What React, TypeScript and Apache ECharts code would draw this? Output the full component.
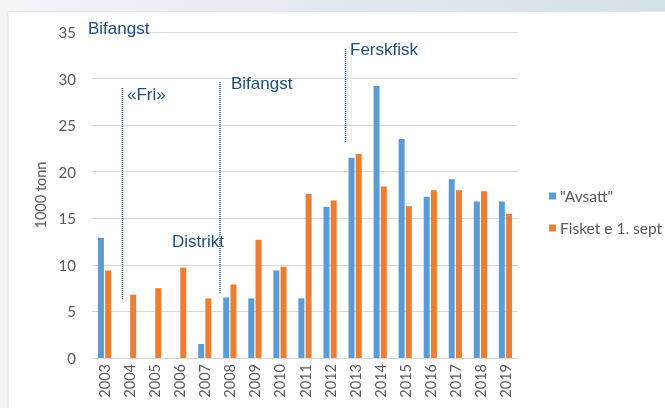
import React, { useEffect, useRef } from "react";
import * as echarts from "echarts";

const years = ["2003","2004","2005","2006","2007","2008","2009","2010","2011","2012","2013","2014","2015","2016","2017","2018","2019"];
const avsatt = [12.9, 0, 0, 0, 1.5, 6.5, 6.4, 9.4, 6.4, 16.2, 21.5, 29.2, 23.5, 17.3, 19.2, 16.8, 16.8];
const fisket = [9.4, 6.8, 7.5, 9.7, 6.4, 7.9, 12.7, 9.8, 17.6, 16.9, 21.9, 18.4, 16.3, 18.0, 18.0, 17.9, 15.5];
const seriesNames = ['"Avsatt"', "Fisket e 1. sept"];
const yTicks = { min: 0, max: 35, interval: 5 };
const annotations = ["Bifangst", "«Fri»", "Bifangst", "Distrikt", "Ferskfisk"];

export default function App() {
  const ref = useRef<HTMLDivElement>(null);
  useEffect(() => {
    if (!ref.current) return;
    const chart = echarts.init(ref.current, null, { renderer: "svg" });
    const labelFont = "Lato, 'Open Sans', sans-serif";
    const annFont = "'Liberation Sans', Arial, sans-serif";
    const annColor = "#1f4e79";
    const dotted = (x: number, y1: number, y2: number) => ({
      type: "line",
      shape: { x1: x, y1, x2: x, y2 },
      style: { stroke: annColor, lineWidth: 1.5, lineDash: [1, 1] },
      z: 10,
    });
    const ann = (text: string, x: number, y: number) => ({
      type: "text",
      x,
      y,
      style: { text, fill: annColor, font: `17px ${annFont}`, textVerticalAlign: "middle" },
      z: 10,
    });
    chart.setOption({
      animation: false,
      backgroundColor: "transparent",
      graphic: [
        {
          type: "rect",
          shape: { x: 0, y: 0, width: 665, height: 408 },
          style: {
            fill: new echarts.graphic.LinearGradient(0, 0, 1, 0, [
              { offset: 0, color: "#f3f5f7" },
              { offset: 1, color: "#d3dfe7" },
            ]),
          },
          z: -10,
        },
        {
          type: "rect",
          shape: { x: 0, y: 12, width: 8, height: 396 },
          style: { fill: "#f2f4f6" },
          z: -9,
        },
        {
          type: "rect",
          shape: { x: 8, y: 11.5, width: 660, height: 400 },
          style: { fill: "#ffffff", stroke: "#e0e4e8", lineWidth: 1 },
          z: -8,
        },
        dotted(122.5, 88, 300),
        dotted(220, 82, 294),
        dotted(345.5, 49, 142),
        ann(annotations[0], 88, 28),
        ann(annotations[1], 127, 94),
        ann(annotations[2], 231, 83),
        ann(annotations[3], 172, 241),
        ann(annotations[4], 350, 49),
      ],
      grid: { left: 92, right: 147, top: 32, bottom: 50, containLabel: false },
      legend: {
        orient: "vertical",
        left: 544,
        top: 183,
        itemWidth: 7,
        itemHeight: 7,
        itemGap: 16,
        icon: "rect",
        textStyle: { fontSize: 15.5, color: "#595959", fontFamily: labelFont, padding: [0, 0, 0, -1] },
        data: seriesNames,
      },
      xAxis: {
        type: "category",
        data: years,
        axisLine: { lineStyle: { color: "#d9d9d9" } },
        axisTick: { show: false },
        axisLabel: { rotate: 90, fontSize: 14.5, color: "#595959", fontFamily: labelFont, margin: 6 },
      },
      yAxis: {
        type: "value",
        min: yTicks.min,
        max: yTicks.max,
        interval: yTicks.interval,
        name: "1000 tonn",
        nameLocation: "middle",
        nameGap: 36,
        nameTextStyle: { fontSize: 14.5, color: "#595959", fontFamily: labelFont },
        axisLine: { show: false },
        axisTick: { show: false },
        splitLine: { lineStyle: { color: "#d9d9d9" } },
        axisLabel: { fontSize: 15, color: "#595959", fontFamily: labelFont, margin: 16 },
      },
      series: [
        {
          name: seriesNames[0],
          type: "bar",
          data: avsatt,
          barWidth: 6,
          barGap: "20%",
          itemStyle: { color: "#5b9bd5" },
        },
        {
          name: seriesNames[1],
          type: "bar",
          data: fisket,
          barWidth: 6,
          barGap: "20%",
          itemStyle: { color: "#ed7d31" },
        },
      ],
    });
    return () => chart.dispose();
  }, []);
  return <div ref={ref} style={{ position: "fixed", left: 0, top: 0, width: 665, height: 408 }} />;
}
